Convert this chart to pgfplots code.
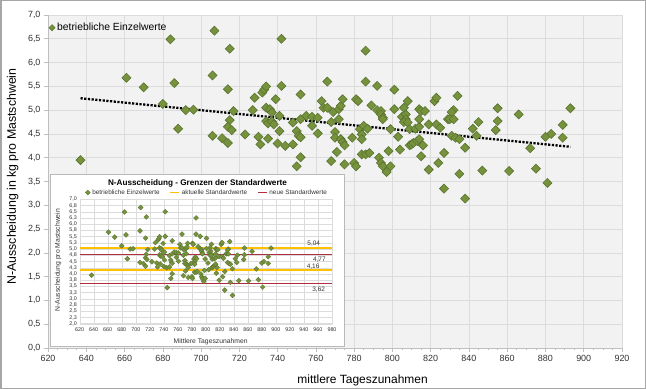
\documentclass[border=0pt]{standalone}
\usepackage{pgfplots}
\pgfplotsset{compat=1.18}
\usepackage{pgfplotstable}
\usepackage{fontspec}
\setmainfont{Liberation Sans}
\definecolor{ptfill}{HTML}{76923C}
\definecolor{ptedge}{HTML}{5A7430}
\definecolor{bggray}{HTML}{F2F2F2}
\definecolor{gridgray}{HTML}{DCDCDC}
\definecolor{axgray}{HTML}{BFBFBF}
\definecolor{txtgray}{HTML}{333333}
\definecolor{stdyellow}{HTML}{FFC000}
\definecolor{stdred}{HTML}{B02E40}

\pgfplotstableread{
x y
637 3.95
661 5.68
670 5.48
680 5.13
684 6.49
707 6.67
742 6.50
686 5.57
688 4.61
692 5.00
696 5.01
706 5.73
715 6.29
714 5.44
717 4.98
715 4.79
714 4.65
716 4.58
706 4.46
711 4.41
714 4.31
723 4.49
727 5.00
728 5.26
730 4.44
731 4.28
732 5.37
733 5.43
734 5.50
734 5.05
736 5.02
737 4.95
739 5.23
734 4.77
735 4.72
737 4.76
738 4.70
735 4.40
740 4.30
742 5.51
741 4.88
741 4.56
744 4.25
748 4.28
748 4.74
750 3.82
752 4.01
752 5.33
750 4.56
751 4.46
752 4.43
752 4.81
755 4.88
758 4.86
761 4.84
758 4.67
761 4.51
763 5.19
764 5.05
766 5.05
766 5.60
768 4.75
769 4.96
770 4.54
770 4.42
771 4.12
768 3.93
772 5.02
773 5.09
774 5.23
772 4.81
773 4.39
774 4.33
775 4.26
775 3.86
779 4.42
780 3.89
781 3.82
781 5.23
782 5.19
783 4.60
784 4.49
784 4.39
785 4.67
786 5.60
786 6.25
787 4.61
784 4.07
786 4.07
788 4.10
789 5.10
792 5.51
792 5.00
794 4.98
794 4.91
795 4.84
795 4.81
793 4.00
794 3.89
795 3.82
797 3.70
798 4.14
799 3.82
799 4.60
801 5.43
801 5.02
803 4.44
804 4.17
805 4.86
807 4.91
807 4.81
806 4.75
808 4.74
806 5.05
808 5.19
809 4.26
810 4.28
811 4.31
813 4.35
814 4.39
809 4.60
812 4.61
814 4.65
814 5.02
815 4.98
814 4.81
815 4.03
816 4.26
817 4.98
819 4.70
819 3.75
822 5.19
823 5.26
823 4.70
824 3.89
825 4.63
827 3.35
827 4.10
829 4.81
830 4.81
832 4.81
832 5.00
834 5.30
831 4.96
831 4.46
833 4.42
835 4.39
835 3.66
838 4.21
842 4.61
844 4.46
845 4.75
847 3.73
854 4.58
855 4.77
855 5.04
861 3.72
866 4.91
872 4.20
875 3.77
880 4.44
881 3.47
883 4.50
889 4.69
889 4.42
893 5.04
838 3.14
745 3.45
}\datatable

\begin{document}
\begin{tikzpicture}
\useasboundingbox (0bp,0bp) rectangle (646bp,389bp);
\begin{axis}[
  at={(48bp,41bp)}, anchor=south west,
  scale only axis, width=574bp, height=333bp,
  xmin=620, xmax=920, ymin=0, ymax=7,
  xtick distance=20, ytick distance=0.5,
  minor x tick num=3,
  grid=major,
  major grid style={gridgray, line width=0.6bp},
  axis background/.style={fill=bggray},
  axis x line*=bottom, axis y line*=left,
  axis line style={axgray, line width=0.8bp, -},
  tick style={axgray, line width=0.6bp},
  tick align=outside,
  major tick length=4bp, minor tick length=2.5bp,
  /pgf/number format/assume math mode=true,
  /pgf/number format/1000 sep={},
  tick label style={font=\fontsize{9}{10}\selectfont, text=txtgray},
  y tick label style={/pgf/number format/fixed, /pgf/number format/fixed zerofill, /pgf/number format/precision=1, /pgf/number format/use comma},
  xlabel={mittlere Tageszunahmen},
  x label style={at={(axis description cs:0.548,-0.0961)}, anchor=center, font=\fontsize{12}{14}\selectfont, text=black},
  ylabel={N-Ausscheidung in kg pro Mastschwein},
  y label style={at={(axis description cs:-0.0615,0.515)}, anchor=center, font=\fontsize{12.4}{14}\selectfont, text=black},
  legend image code/.code={\draw[mark repeat=2,mark phase=2,#1] plot coordinates {(0bp,0bp) (4bp,0bp) (8bp,0bp)};},
  legend style={at={(axis description cs:0.0,0.962)}, anchor=west, draw=none, fill=none, inner xsep=0.7bp, font=\fontsize{10.4}{12}\selectfont},
]
\addlegendimage{only marks, mark=square*, mark size=2.2bp, mark options={rotate=45, fill=ptfill, draw=ptedge, line width=0.4bp}}
\addlegendentry{betriebliche Einzelwerte}
\addplot[forget plot, only marks, mark=square*, mark size=3.2bp, mark options={rotate=45, fill=ptfill, draw=ptedge, line width=0.6bp}] table[x=x, y=y] {\datatable};
\addplot[forget plot, black, line width=2.3bp, dash pattern=on 2.2bp off 1.5bp] coordinates {(637,5.25) (893,4.23)};
\end{axis}

\draw[gray!55, line width=0.6bp, fill=white] (50bp,43bp) rectangle (344bp,215bp);

\begin{axis}[
  at={(79.7bp,65.3bp)}, anchor=south west,
  scale only axis, width=252.3bp, height=124.4bp,
  xmin=620, xmax=980, ymin=2, ymax=7,
  xtick distance=20,
  ytick={2,2.25,2.5,2.75,3,3.25,3.5,3.75,4,4.25,4.5,4.75,5,5.25,5.5,5.75,6,6.25,6.5,6.75,7},
  yticklabels={{2,0},{2,3},{2,5},{2,8},{3,0},{3,3},{3,5},{3,8},{4,0},{4,3},{4,5},{4,8},{5,0},{5,3},{5,5},{5,8},{6,0},{6,3},{6,5},{6,8},{7,0}},
  grid=major,
  major grid style={gridgray, line width=0.35bp},
  axis line style={gridgray, line width=0.4bp},
  tick style={draw=none},
  /pgf/number format/assume math mode=true,
  /pgf/number format/1000 sep={},
  tick label style={font=\fontsize{5.4}{6}\selectfont, text=txtgray, inner sep=1.2bp},
  x tick label style={yshift=-2.5bp},
  y tick label style={xshift=-1.5bp},
  xlabel={Mittlere Tageszunahmen},
  x label style={at={(axis description cs:0.519,-0.1415)}, anchor=center, font=\fontsize{6.8}{8}\selectfont, text=txtgray},
  ylabel={N-Ausscheidung pro Mastschwein},
  y label style={at={(axis description cs:-0.086,0.51)}, anchor=center, font=\fontsize{6.8}{8}\selectfont, text=txtgray},
  title={\bfseries N-Ausscheidung - Grenzen der Standardwerte},
  every axis title/.style={at={(axis description cs:0.467,1.127)}, anchor=center, font=\fontsize{8.2}{9}\selectfont},
  legend columns=3,
  legend image code/.code={\draw[mark repeat=2,mark phase=2,#1] plot coordinates {(0bp,0bp) (4.5bp,0bp) (9bp,0bp)};},
  legend style={at={(axis description cs:0.505,1.012)}, anchor=south, draw=none, fill=none, inner sep=0pt, font=\fontsize{6.4}{7}\selectfont, text=txtgray, /tikz/every even column/.append style={column sep=8bp}},
]
\addplot[only marks, mark=square*, mark size=1.75bp, mark options={rotate=45, fill=ptfill, draw=ptedge, line width=0.3bp}] table[x=x, y=y] {\datatable};
\addlegendentry{betriebliche Einzelwerte}
\addplot[color=stdyellow, line width=1.3bp] coordinates {(620,5.04) (980,5.04)};
\addlegendentry{aktuelle Standardwerte}
\addplot[color=stdred, line width=1.3bp] coordinates {(620,4.77) (980,4.77)};
\addlegendentry{neue Standardwerte}
\addplot[forget plot, color=stdyellow, line width=1.3bp] coordinates {(620,4.16) (980,4.16)};
\addplot[forget plot, color=stdred, line width=1.3bp] coordinates {(620,3.62) (980,3.62)};
\node[font=\fontsize{6.5}{7}\selectfont, text=txtgray] at (axis cs:954,5.215) {5,04};
\node[font=\fontsize{6.5}{7}\selectfont, text=txtgray] at (axis cs:962,4.57) {4,77};
\node[font=\fontsize{6.5}{7}\selectfont, text=txtgray] at (axis cs:953,4.29) {4,16};
\node[font=\fontsize{6.5}{7}\selectfont, text=txtgray] at (axis cs:961,3.37) {3,62};
\end{axis}

\draw[gray!70, line width=1.5bp] (0.75bp,0.75bp) rectangle (645.25bp,388.25bp);
\end{tikzpicture}
\end{document}
